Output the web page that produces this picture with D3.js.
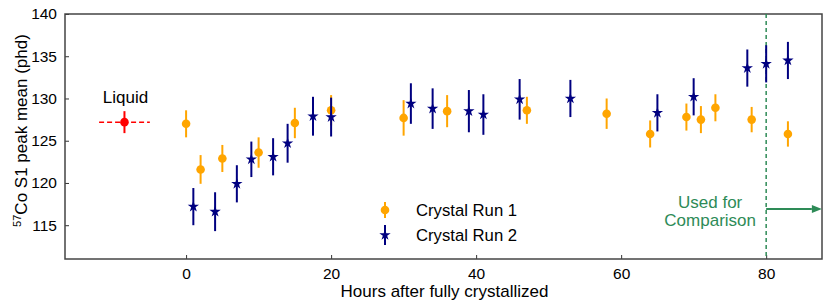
<!DOCTYPE html>
<html>
<head>
<meta charset="utf-8">
<script src="https://cdn.jsdelivr.net/npm/d3@7"></script>
<style>
  body { margin: 0; background: #fff; }
  text { font-family: "Liberation Sans", Arial, sans-serif; }
</style>
</head>
<body>
<div id="chart"></div>
<script>
// Crystal Run 1 (orange circles)
const run1Hours = [0, 2, 5, 10, 15, 20, 30, 36, 47, 58, 64, 69, 71, 73, 78, 83];
const run1Mean  = [127.0, 121.6, 122.9, 123.6, 127.1, 128.6, 127.7, 128.5, 128.6, 128.2, 125.8, 127.8, 127.5, 128.9, 127.5, 125.8];
const run1Err   = [1.6, 1.7, 1.6, 1.8, 1.8, 1.8, 2.1, 1.9, 1.6, 1.8, 1.6, 1.6, 1.6, 1.6, 1.5, 1.5];

// Crystal Run 2 (navy stars)
const run2Hours = [1, 4, 7, 9, 12, 14, 17.5, 20, 31, 34, 39, 41, 46, 53, 65, 70, 77.4, 80, 83];
const run2Mean  = [117.2, 116.6, 119.9, 122.8, 123.1, 124.7, 127.9, 127.8, 129.4, 128.8, 128.5, 128.1, 129.9, 130.0, 128.3, 130.2, 133.6, 134.1, 134.5];
const run2Err   = [2.2, 2.3, 2.2, 2.1, 2.2, 2.3, 2.3, 2.3, 2.4, 2.4, 2.5, 2.4, 2.4, 2.2, 2.2, 2.2, 2.2, 2.2, 2.2];

// Liquid reference point
const liquid = { hours: -8.5, mean: 127.2, hoursErr: 3.5, meanErr: 1.3 };

const xTicks = [0, 20, 40, 60, 80];
const yTicks = [115, 120, 125, 130, 135, 140];
const cutHour = 80;

const margin = { top: 14, right: 8, bottom: 49, left: 65 },
    width = 830 - margin.left - margin.right,
    height = 308 - margin.top - margin.bottom;

const svg = d3.select("#chart").append("svg")
    .attr("width", 830).attr("height", 308)
    .append("g")
    .attr("transform", `translate(${margin.left},${margin.top})`);

const x = d3.scaleLinear().domain([-16.7, 87.7]).range([0, width]);
const y = d3.scaleLinear().domain([111, 140]).range([height, 0]);

// Axes with inward ticks
const xAxis = svg.append("g")
    .attr("transform", `translate(0,${height})`)
    .call(d3.axisBottom(x).tickValues(xTicks).tickSizeInner(-4).tickSizeOuter(0).tickPadding(9));
const yAxis = svg.append("g")
    .call(d3.axisLeft(y).tickValues(yTicks).tickSizeInner(-4).tickSizeOuter(0).tickPadding(8));
[xAxis, yAxis].forEach(a => {
    a.select(".domain").remove();
    a.selectAll("line").attr("stroke", "#333");
    a.selectAll("text").style("font-size", "15.5px").attr("fill", "#000")
        .style("font-family", "'Liberation Sans', Arial, sans-serif");
});

// Frame
svg.append("rect")
    .attr("width", width).attr("height", height)
    .attr("fill", "none").attr("stroke", "#444").attr("stroke-width", 1.5);

// Axis labels
svg.append("text")
    .attr("x", width / 2 + 1).attr("y", height + 38)
    .attr("text-anchor", "middle").style("font-size", "17px")
    .text("Hours after fully crystallized");

const yl = svg.append("text")
    .attr("transform", `translate(-38,${height / 2 - 6}) rotate(-90)`)
    .attr("text-anchor", "middle").style("font-size", "17px");
yl.append("tspan").attr("baseline-shift", "super").style("font-size", "11px").text("57");
yl.append("tspan").text("Co S1 peak mean (phd)");

// Vertical cut line
const green = "#2E8B57";
svg.append("line")
    .attr("x1", x(cutHour)).attr("x2", x(cutHour))
    .attr("y1", 0).attr("y2", height)
    .attr("stroke", green).attr("stroke-width", 1.5).attr("stroke-dasharray", "4,3");

// Error bars + markers
function drawSeries(hours, mean, err, color, shape) {
    const data = hours.map((h, i) => ({ h, m: mean[i], e: err[i] }));
    const g = svg.append("g");
    g.selectAll("line.err").data(data).enter().append("line")
        .attr("x1", d => x(d.h)).attr("x2", d => x(d.h))
        .attr("y1", d => y(d.m - d.e)).attr("y2", d => y(d.m + d.e))
        .attr("stroke", color).attr("stroke-width", 2);
    g.selectAll("path.mk").data(data).enter().append("path")
        .attr("transform", d => `translate(${x(d.h)},${y(d.m)})`)
        .attr("d", d3.symbol().type(shape).size(shape === d3.symbolCircle ? 58 : 40))
        .attr("fill", color);
}
drawSeries(run1Hours, run1Mean, run1Err, "#FFA500", d3.symbolCircle);
drawSeries(run2Hours, run2Mean, run2Err, "#000080", d3.symbolStar);

// Liquid point
svg.append("line")
    .attr("x1", x(liquid.hours - liquid.hoursErr)).attr("x2", x(liquid.hours + liquid.hoursErr))
    .attr("y1", y(liquid.mean)).attr("y2", y(liquid.mean))
    .attr("stroke", "red").attr("stroke-width", 1.5).attr("stroke-dasharray", "5,3");
svg.append("line")
    .attr("x1", x(liquid.hours)).attr("x2", x(liquid.hours))
    .attr("y1", y(liquid.mean - liquid.meanErr)).attr("y2", y(liquid.mean + liquid.meanErr))
    .attr("stroke", "red").attr("stroke-width", 2);
svg.append("circle")
    .attr("cx", x(liquid.hours)).attr("cy", y(liquid.mean)).attr("r", 4.3).attr("fill", "red");
svg.append("text")
    .attr("x", x(liquid.hours) + 1).attr("y", y(liquid.mean) - 19)
    .attr("text-anchor", "middle").style("font-size", "17px")
    .text("Liquid");

// "Used for Comparison" annotation + arrow
const annX = x(cutHour) - 56;
const ann = svg.append("text")
    .attr("x", annX).attr("y", 194)
    .attr("text-anchor", "middle").attr("fill", green).style("font-size", "17px");
ann.append("tspan").attr("x", annX).text("Used for");
ann.append("tspan").attr("x", annX).attr("dy", 18).text("Comparison");

const arrowY = 195;
svg.append("line")
    .attr("x1", x(cutHour)).attr("x2", x(86.3))
    .attr("y1", arrowY).attr("y2", arrowY)
    .attr("stroke", green).attr("stroke-width", 2);
svg.append("path")
    .attr("d", `M${x(86.3)},${arrowY - 4}L${x(86.3) + 10},${arrowY}L${x(86.3)},${arrowY + 4}Z`)
    .attr("fill", green);

// Legend
const legend = svg.append("g").attr("transform", "translate(320,196)");
const legendItems = [
    { label: "Crystal Run 1", color: "#FFA500", shape: d3.symbolCircle, size: 58, err: 8 },
    { label: "Crystal Run 2", color: "#000080", shape: d3.symbolStar, size: 40, err: 10 }
];
legendItems.forEach((d, i) => {
    const row = legend.append("g").attr("transform", `translate(0,${i * 25})`);
    row.append("line").attr("y1", -d.err).attr("y2", d.err)
        .attr("stroke", d.color).attr("stroke-width", 2);
    row.append("path").attr("d", d3.symbol().type(d.shape).size(d.size)).attr("fill", d.color);
    row.append("text").attr("x", 31).attr("y", 6).style("font-size", "16.7px").text(d.label);
});
</script>
</body>
</html>
